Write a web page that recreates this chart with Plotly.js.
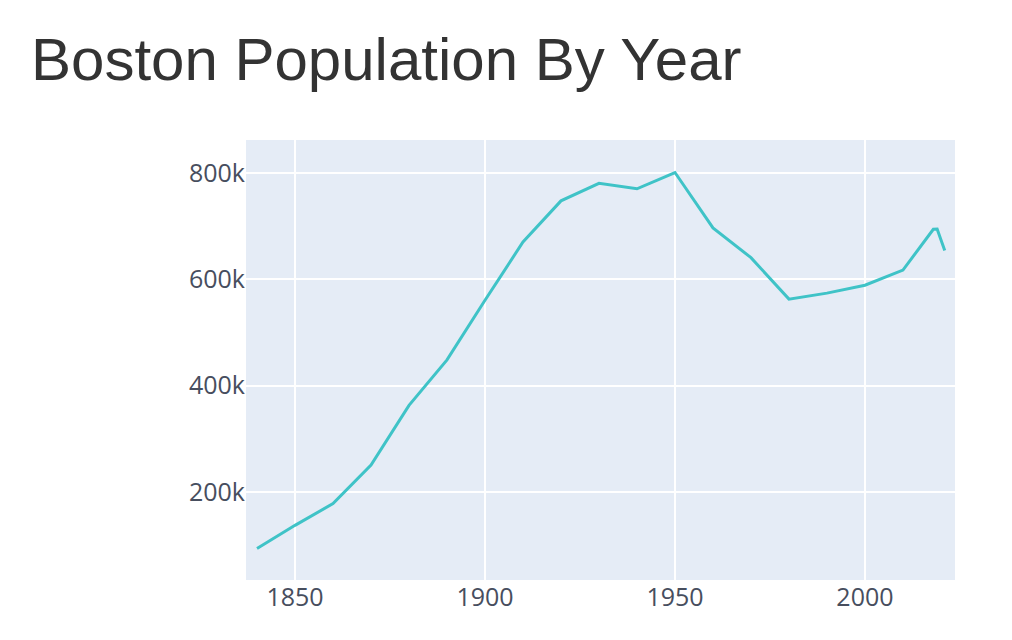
<!DOCTYPE html>
<html>
<head>
<meta charset="utf-8">
<script src="https://cdn.plot.ly/plotly-3.0.1.min.js"></script>
<style>html,body{margin:0;padding:0;background:#fff;}#chart{width:1012px;height:640px;}</style>
</head>
<body>
<div id="chart"></div>
<script>
const years = [1840,1850,1860,1870,1880,1890,1900,1910,1920,1930,1940,1950,1960,1970,1980,1990,2000,2010,2018,2019,2021];
const population = [93383,136881,177840,250526,362839,448477,560892,670585,748060,781188,770816,801444,697197,641071,562994,574283,589141,617594,694583,695000,654776];
const xTicks = [1850,1900,1950,2000];
const yTicks = [200000,400000,600000,800000];
const yTickLabels = ["200k","400k","600k","800k"];

const trace = {
  x: years, y: population, type: 'scatter', mode: 'lines',
  line: {color: '#3fc3c7', width: 3}, hoverinfo: 'x+y'
};
const layout = {
  width: 1012, height: 640,
  margin: {l: 246, r: 57, t: 140, b: 60},
  paper_bgcolor: '#ffffff', plot_bgcolor: '#e5ecf6',
  showlegend: false,
  title: {
    text: 'Boston Population By Year',
    font: {family: 'Liberation Sans, Arial, sans-serif', size: 60, color: '#333333'},
    x: 31/1012, xref: 'container', xanchor: 'left',
    y: 1 - 59/640, yref: 'container', yanchor: 'middle'
  },
  xaxis: {
    range: [1837.1, 2023.7], tickvals: xTicks, ticktext: xTicks.map(String),
    showgrid: true, gridcolor: '#ffffff', gridwidth: 2, zeroline: false,
    showline: false, ticks: '',
    tickfont: {family: 'Open Sans, sans-serif', size: 25, color: '#474e5e'}
  },
  yaxis: {
    range: [33900, 862700], tickvals: yTicks, ticktext: yTickLabels,
    showgrid: true, gridcolor: '#ffffff', gridwidth: 2, zeroline: false,
    showline: false, ticks: '',
    tickfont: {family: 'Open Sans, sans-serif', size: 25, color: '#474e5e'}
  }
};
Plotly.newPlot('chart', [trace], layout, {displayModeBar: false, staticPlot: true});
</script>
</body>
</html>
